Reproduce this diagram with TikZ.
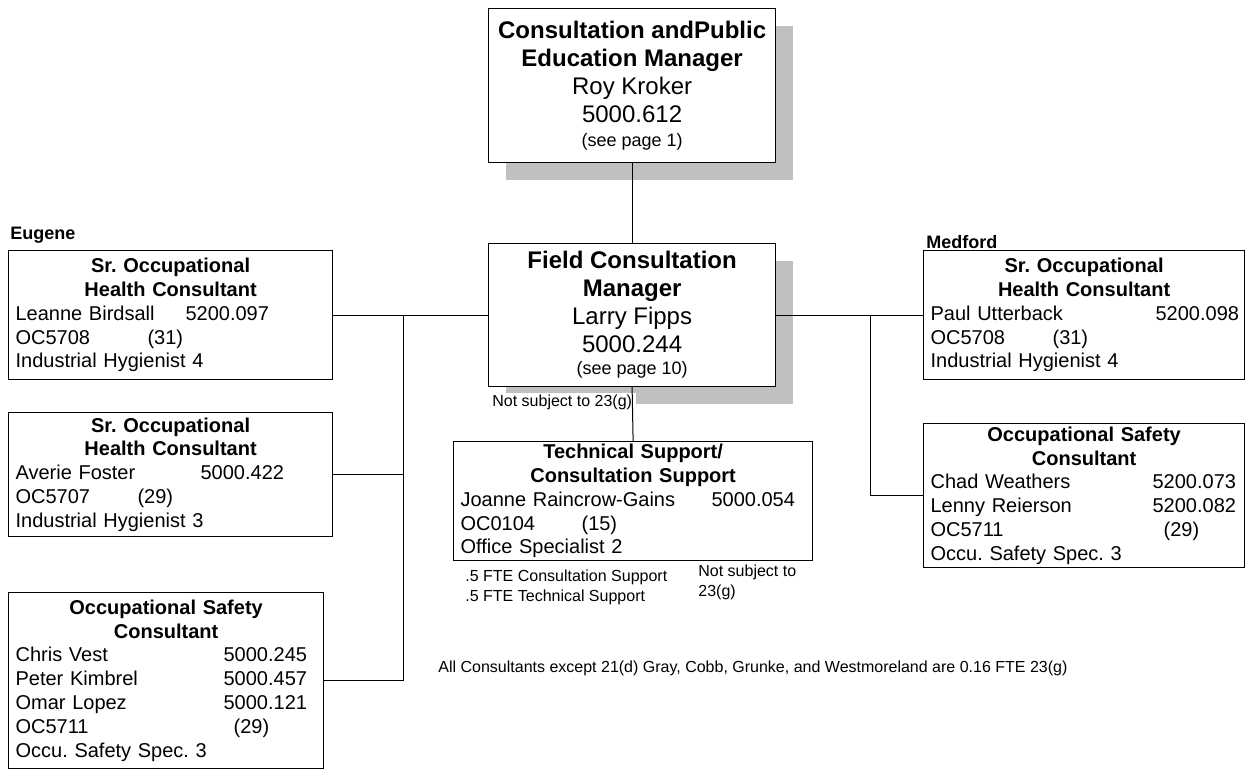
\documentclass[tikz,border=0pt]{standalone}
\usepackage{fontspec}
\setmainfont{Liberation Sans}
\usepackage{tikz}
\usetikzlibrary{shadows}
\frenchspacing

\newcommand{\boxhead}[1]{{\centering\bfseries #1\par}}
\newcommand{\colrow}[3]{\makebox[#1][l]{#2}#3}

\begin{document}
\begin{tikzpicture}[x=0.5pt,y=-0.5pt,
        posbox/.style={draw,line width=0.6pt,fill=white,anchor=north west,inner xsep=3.5pt,inner ysep=0pt,align=left,font=\fontsize{10}{11.9}\selectfont},
        mgrbox/.style={draw,line width=0.6pt,fill=white,anchor=north west,minimum width=143.5pt,text width=137.5pt,inner xsep=3pt,inner ysep=0pt,align=flush center,font=\fontsize{12}{14}\selectfont},
        shadowed/.style={drop shadow={shadow xshift=8.5pt,shadow yshift=-8.5pt,fill=black!25,opacity=1}},
        place/.style={anchor=west,inner sep=0pt,font=\fontsize{9}{11}\selectfont\bfseries},
        note/.style={anchor=west,inner sep=0pt,font=\fontsize{8}{10}\selectfont},
        link/.style={line width=0.5pt}]
                \useasboundingbox (0,0) rectangle (1245,770);

                \node[mgrbox,shadowed,minimum height=77pt] (roy) at (488,8) {{\bfseries Consultation andPublic\\Education Manager}\\Roy Kroker\\5000.612\\[-2pt]{\fontsize{9}{11}\selectfont (see page 1)}\par\vspace{-3pt}};
                \node[mgrbox,shadowed,minimum height=71.5pt] (larry) at (488,243) {{\bfseries Field Consultation\\Manager}\\Larry Fipps\\5000.244\\[-3pt]{\fontsize{9}{11}\selectfont (see page 10)}\par\vspace{-3pt}};

                \node[place] (eugene) at (10,235) {Eugene};
                \node[place] (medford) at (926,242) {Medford};

                \node[posbox,minimum width=162pt,text width=155pt,minimum height=64.5pt] (leanne) at (8,250) {\boxhead{Sr. Occupational\\Health Consultant}
                    \colrow{85pt}{Leanne Birdsall}{5200.097}\\
                    \colrow{66pt}{OC5708}{(31)}\\
                    Industrial Hygienist 4};
                \node[posbox,minimum width=162pt,text width=155pt,minimum height=62pt] (averie) at (8,412) {\boxhead{Sr. Occupational\\Health Consultant}
                    \colrow{92.5pt}{Averie Foster}{5000.422}\\
                    \colrow{61pt}{OC5707}{(29)}\\
                    Industrial Hygienist 3};
                \node[posbox,minimum width=157.5pt,text width=150.5pt,minimum height=88pt] (chris) at (8,592) {\boxhead{Occupational Safety\\Consultant}
                    \colrow{104pt}{Chris Vest}{5000.245}\\
                    \colrow{104pt}{Peter Kimbrel}{5000.457}\\
                    \colrow{104pt}{Omar Lopez}{5000.121}\\
                    \colrow{109pt}{OC5711}{(29)}\\
                    Occu. Safety Spec. 3};

                \node[posbox,minimum width=179.5pt,text width=172.5pt,minimum height=59.5pt,inner xsep=3pt] (joanne) at (453,441) {\boxhead{Technical Support/\\Consultation Support}
                    \colrow{125.5pt}{Joanne Raincrow-Gains}{5000.054}\\
                    \colrow{60.5pt}{OC0104}{(15)}\\
                    Office Specialist 2};

                \node[posbox,minimum width=160.5pt,text width=153.5pt,minimum height=64.5pt] (paul) at (923,250) {\boxhead{Sr. Occupational\\Health Consultant}
                    \colrow{112.5pt}{Paul Utterback}{5200.098}\\
                    \colrow{61pt}{OC5708}{(31)}\\
                    Industrial Hygienist 4};
                \node[posbox,minimum width=160.5pt,text width=153.5pt,minimum height=72pt] (chad) at (923,423) {\boxhead{Occupational Safety\\Consultant}
                    \colrow{111pt}{Chad Weathers}{5200.073}\\
                    \colrow{111pt}{Lenny Reierson}{5200.082}\\
                    \colrow{116.5pt}{OC5711}{(29)}\\
                    Occu. Safety Spec. 3};

                \node[note,fill=white,inner xsep=2pt,inner ysep=1pt] (notsub) at (488,402) {Not subject to 23(g)};
                \node[note,align=left] (fte) at (465,587) {.5 FTE Consultation Support\\.5 FTE Technical Support};
                \node[note,align=left] (notsubb) at (698,582) {Not subject to\\23(g)};
                \node[note] (allnote) at (438,668) {All Consultants except 21(d) Gray, Cobb, Grunke, and Westmoreland are 0.16 FTE 23(g)};

                \coordinate (trunkL) at (403,314.5);
                \coordinate (trunkR) at (870,314.5);

                \draw[link] (roy.south) -- (larry.north);
                \draw[link] (larry.south) -- (joanne.north);
                \draw[link] (larry.west) -- (leanne.east);
                \draw[link] (larry.east) -- (paul.west);
                \draw[link] (trunkL) -- (trunkL |- chris.east);
                \foreach \b in {averie,chris}{
                    \draw[link] (trunkL |- \b.east) -- (\b.east);
                }
                \draw[link] (trunkR) |- (chad.west);
            \end{tikzpicture}
\end{document}
